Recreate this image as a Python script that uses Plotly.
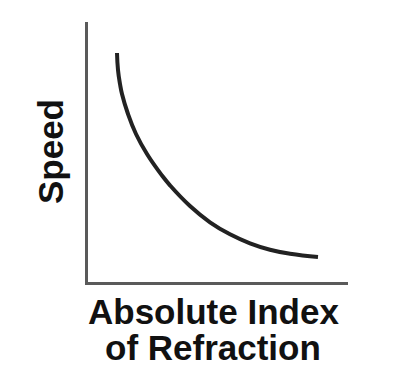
import plotly.graph_objects as go

# Values (arbitrary units)
refractive_index = [29, 30, 32, 34, 40, 48, 59, 74, 82, 102, 122, 142, 162, 182, 202, 230]
speed = [229, 212, 198, 188, 168, 148, 128, 106.5, 96.7, 76, 59.7, 47.7, 38.7, 32.3, 28.3, 25]

x_title_lines = ["Absolute Index", "of Refraction"]
y_title = "Speed"

fig = go.Figure()
fig.add_trace(go.Scatter(
    x=refractive_index, y=speed, mode="lines",
    line=dict(color="#222222", width=4, shape="spline", smoothing=1.3),
    hoverinfo="skip", showlegend=False,
))

font = dict(family="Liberation Sans, Arial, sans-serif", size=35, color="#111111", weight="bold")

fig.update_layout(
    width=400, height=384,
    margin=dict(l=88, r=52, t=22, b=102),
    paper_bgcolor="white", plot_bgcolor="white",
    xaxis=dict(range=[0, 260], showline=True, linecolor="#5a5a5a", linewidth=3,
               showgrid=False, zeroline=False, showticklabels=False, ticks=""),
    yaxis=dict(range=[0, 260], showline=True, linecolor="#5a5a5a", linewidth=3,
               showgrid=False, zeroline=False, showticklabels=False, ticks=""),
    annotations=[
        dict(text=y_title, xref="paper", yref="paper", x=-0.146, y=0.5,
             textangle=-90, showarrow=False, font=font, xanchor="center", yanchor="middle"),
        dict(text=x_title_lines[0], xref="paper", yref="paper", x=0.483, y=-0.115,
             showarrow=False, font=font, xanchor="center", yanchor="middle"),
        dict(text=x_title_lines[1], xref="paper", yref="paper", x=0.481, y=-0.25,
             showarrow=False, font=font, xanchor="center", yanchor="middle"),
    ],
)

fig.write_html("out.html")
